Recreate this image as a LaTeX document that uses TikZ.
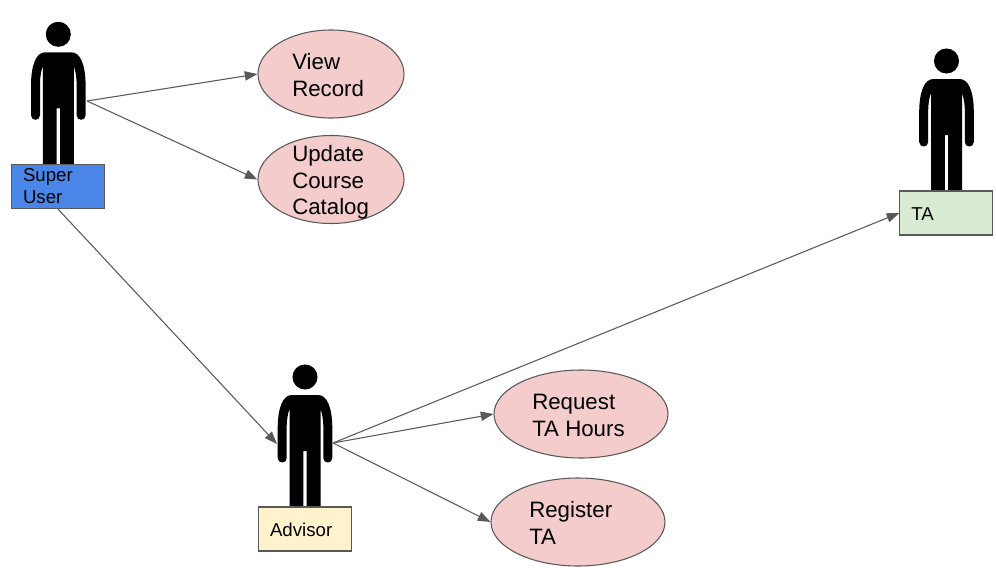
\documentclass[tikz,border=0pt]{standalone}
\usepackage{fontspec}
\setmainfont{Liberation Sans}
\usetikzlibrary{arrows.meta}
\usetikzlibrary{shapes.geometric}
\definecolor{edgegray}{HTML}{595959}
\definecolor{casepink}{HTML}{F4CCCC}
\tikzset{
  usecase/.style={
    ellipse,
    draw=edgegray,
    line width=.8pt,
    fill=casepink,
    minimum width=109.5pt,
    minimum height=66pt,
    inner sep=0,
  },
  widecase/.style={
    usecase,
    minimum width=130.5pt,
  },
  caselabel/.style={
    anchor=west,
    align=left,
    inner sep=0,
    font=\fontsize{16.7}{20}\selectfont,
  },
  rolebox/.style={
    rectangle,
    draw=edgegray,
    line width=.8pt,
    minimum height=33pt,
    text width=52.5pt,
    inner xsep=8.6pt,
    inner ysep=0,
    align=left,
    font=\fontsize{14}{16.5}\selectfont,
  },
  oneline/.style={
    rolebox,
    text height=11.5pt,
  },
  link/.style={
    draw=edgegray,
    line width=.8pt,
    -{Stealth[length=9.5pt,width=7pt,inset=0pt]},
  }
}
\newcommand{\stickman}[2] {%
  \begin{scope}[shift={(#1,#2)}]
    \fill (0,0) circle (9.4pt); % head
    \fill (0,18) -- (13,18) .. controls (22,18) and (27,30) .. (27.3,50)
      -- (27.3,81) .. controls (27.3,87) and (18.3,87) .. (18.3,81)
      -- (18.3,50) .. controls (18.3,42) and (17,36) .. (15.5,32)
      -- (15.5,131) -- (1.7,131) -- (1.7,74) -- (-1.7,74) -- (-1.7,131)
      -- (-15.5,131) -- (-15.5,32) .. controls (-17,36) and (-18.3,42) .. (-18.3,50)
      -- (-18.3,81) .. controls (-18.3,87) and (-27.3,87) .. (-27.3,81)
      -- (-27.3,50) .. controls (-27,30) and (-22,18) .. (-13,18) -- cycle; % body
  \end{scope}
}

\begin{document}
\begin{tikzpicture}[x=.75pt,y=-.75pt]
    \useasboundingbox (0,0) rectangle (996,582);

    \stickman{58.3}{34.3}
    \stickman{946.5}{61}
    \stickman{305}{377}

    \node[rolebox,fill={rgb,255:red,74;green,134;blue,232}] at (58,186.5) (superuser) {Super\\User};
    \node[oneline,fill={rgb,255:red,255;green,242;blue,204}] at (305,529) (advisor) {Advisor};
    \node[oneline,fill={rgb,255:red,217;green,234;blue,211}] at (946.3,213) (ta) {TA};

    \node[coordinate] at (87,101) (superhip) {};
    \node[coordinate] at (333,443) (advisorhip) {};
    \node[coordinate] at (277,444) (advisorarm) {};

    \node[usecase] at (331,74) (view) {};
    \node[caselabel] at (292,75) (viewtext) {View\\Record};

    \node[usecase] at (331,179.5) (update) {};
    \node[caselabel] at (292,182.5) (updatetext) {Update\\Course\\Catalog};

    \node[widecase] at (581,414) (request) {};
    \node[caselabel] at (532,415.5) (requesttext) {Request\\TA Hours};

    \node[widecase] at (578,522) (register) {};
    \node[caselabel] at (529,523) (registertext) {Register\\TA};

    \draw[link] (superhip) -- (view.west);
    \draw[link] (superhip) -- (update.west);
    \draw[link] (superuser.south) -- (advisorarm);
    \draw[link] (advisorhip) -- (ta.west);
    \draw[link] (advisorhip) -- (request.west);
    \draw[link] (advisorhip) -- (register.west);
\end{tikzpicture}
\end{document}
